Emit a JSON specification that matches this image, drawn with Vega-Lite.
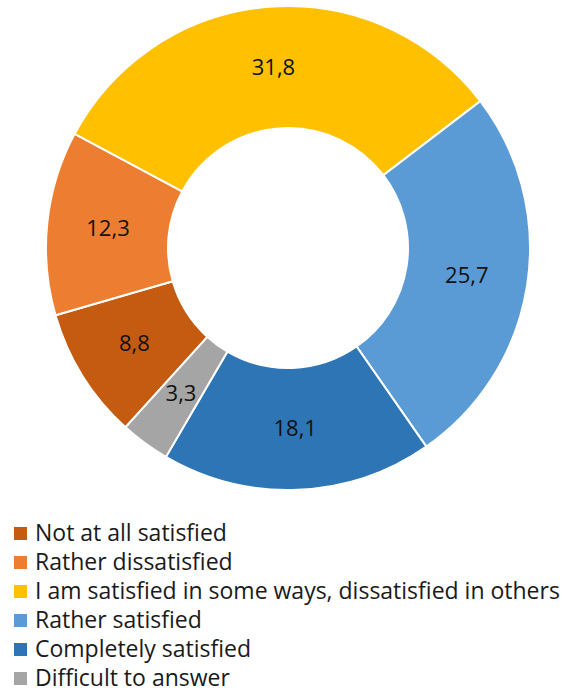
{
  "$schema": "https://vega.github.io/schema/vega-lite/v6.json",
  "width": 576,
  "height": 496,
  "autosize": "none",
  "padding": {"left": 0, "top": 0, "right": 0, "bottom": 196},
  "background": "white",
  "data": {
    "values": [
      {"category": "Not at all satisfied", "value": 8.8, "label": "8,8", "order": 1},
      {"category": "Rather dissatisfied", "value": 12.3, "label": "12,3", "order": 2},
      {"category": "I am satisfied in some ways, dissatisfied in others", "value": 31.8, "label": "31,8", "order": 3},
      {"category": "Rather satisfied", "value": 25.7, "label": "25,7", "order": 4},
      {"category": "Completely satisfied", "value": 18.1, "label": "18,1", "order": 5},
      {"category": "Difficult to answer", "value": 3.3, "label": "3,3", "order": 6}
    ]
  },
  "encoding": {
    "theta": {"field": "value", "type": "quantitative", "stack": true, "scale": {"range": [3.878, 10.161]}},
    "order": {"field": "order", "type": "quantitative"},
    "color": {
      "field": "category",
      "type": "nominal",
      "sort": ["Not at all satisfied", "Rather dissatisfied", "I am satisfied in some ways, dissatisfied in others", "Rather satisfied", "Completely satisfied", "Difficult to answer"],
      "scale": {
        "domain": ["Not at all satisfied", "Rather dissatisfied", "I am satisfied in some ways, dissatisfied in others", "Rather satisfied", "Completely satisfied", "Difficult to answer"],
        "range": ["#C55A11", "#ED7D31", "#FFC000", "#5B9BD5", "#2E75B6", "#A5A5A5"]
      },
      "legend": {
        "title": null,
        "orient": "none",
        "legendX": 9,
        "legendY": 522,
        "symbolType": "square",
        "symbolSize": 169,
        "symbolStrokeWidth": 0,
        "symbolOpacity": 1,
        "labelFont": "Open Sans",
        "labelFontSize": 23,
        "labelColor": "#1a1a1a",
        "labelOffset": 3,
        "labelLimit": 600,
        "rowPadding": 5,
        "padding": 0
      }
    }
  },
  "layer": [
    {
      "mark": {"type": "arc", "innerRadius": 120, "outerRadius": 242, "stroke": "white", "strokeWidth": 2}
    },
    {
      "mark": {"type": "text", "radius": 181, "font": "Open Sans", "fontSize": 22},
      "encoding": {"text": {"field": "label"}, "color": {"value": "#111"}}
    }
  ],
  "view": {"stroke": null}
}
